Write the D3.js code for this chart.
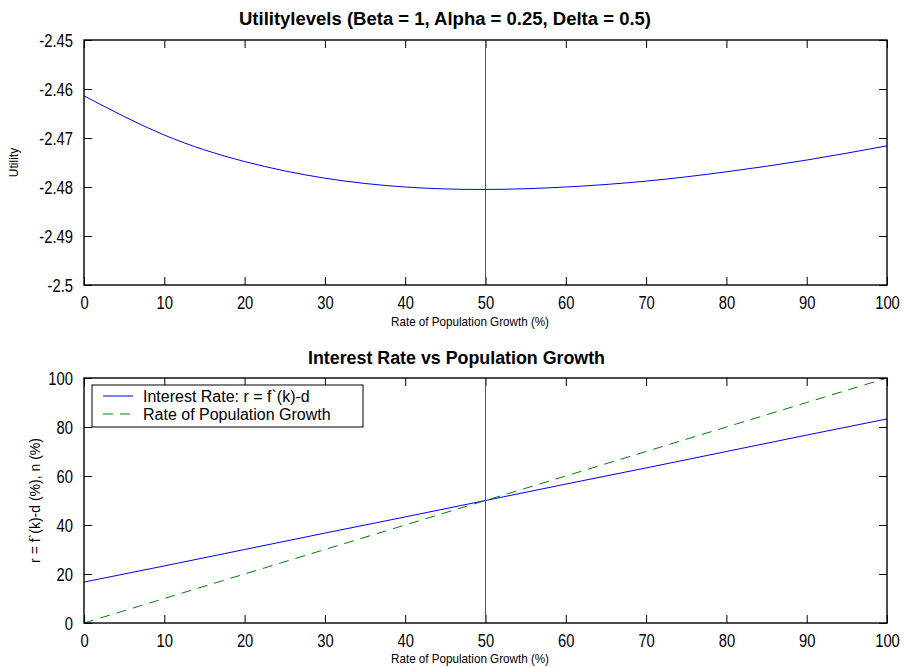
<!DOCTYPE html>
<html>
<head>
<meta charset="utf-8">
<script src="https://cdn.jsdelivr.net/npm/d3@7/dist/d3.min.js"></script>
<style>
  html, body { margin: 0; padding: 0; background: #fff; }
  svg { display: block; font-family: "Liberation Sans", Arial, Helvetica, sans-serif; }
</style>
</head>
<body>
<svg id="chart" width="904" height="667"></svg>
<script>
// ---- data ----
const growth = [0, 10, 20, 30, 40, 50, 60, 70, 80, 90, 100];
const utility = [-2.4614, -2.4694, -2.4748, -2.4782, -2.4800, -2.4805, -2.4800, -2.4788, -2.4769, -2.4745, -2.4716];
const interestRate = [16.7, 23.3, 30.0, 36.7, 43.3, 50.0, 56.7, 63.3, 70.0, 76.7, 83.3];
const popGrowthLine = [0, 10, 20, 30, 40, 50, 60, 70, 80, 90, 100];
const xTicks = [0, 10, 20, 30, 40, 50, 60, 70, 80, 90, 100];
const utilTicks = [-2.45, -2.46, -2.47, -2.48, -2.49, -2.5];
const rateTicks = [0, 20, 40, 60, 80, 100];
const markerX = 50;

const svg = d3.select("#chart");
const L = 84, R = 887;
const top1 = 40, bot1 = 285;
const top2 = 378, bot2 = 623;
const tickLen = 8;
const squeeze = 0.82;

const x = d3.scaleLinear().domain([0, 100]).range([L, R]);
const y1 = d3.scaleLinear().domain([-2.5, -2.45]).range([bot1, top1]);
const y2 = d3.scaleLinear().domain([0, 100]).range([bot2, top2]);

function condense(sel) {
  sel.each(function () {
    const w = this.getComputedTextLength();
    d3.select(this).attr("textLength", w * squeeze).attr("lengthAdjust", "spacingAndGlyphs");
  });
}

function panel(y, yTicks, yFmt, top, bot) {
  const g = svg.append("g");
  g.append("g").attr("transform", `translate(0,${bot})`)
    .call(d3.axisBottom(x).tickValues(xTicks).tickSizeInner(-tickLen).tickSizeOuter(0).tickFormat(d => d))
    .call(a => a.select(".domain").remove())
    .call(a => a.selectAll("text").attr("dy", null).attr("y", 24).attr("font-size", 18).attr("fill", "#000").attr("font-family", "Liberation Sans, Arial, sans-serif"))
    .call(a => a.selectAll("line").attr("stroke", "#000"));
  g.append("g").attr("transform", `translate(0,${top})`)
    .call(d3.axisTop(x).tickValues(xTicks).tickSizeInner(-tickLen).tickSizeOuter(0).tickFormat(""))
    .call(a => a.select(".domain").remove())
    .call(a => a.selectAll("line").attr("stroke", "#000"));
  g.append("g").attr("transform", `translate(${L},0)`)
    .call(d3.axisLeft(y).tickValues(yTicks).tickSizeInner(-tickLen).tickSizeOuter(0).tickFormat(yFmt))
    .call(a => a.select(".domain").remove())
    .call(a => a.selectAll("text").attr("x", -11).attr("dy", "0.36em").attr("font-size", 18).attr("fill", "#000").attr("font-family", "Liberation Sans, Arial, sans-serif"))
    .call(a => a.selectAll("line").attr("stroke", "#000"));
  g.append("g").attr("transform", `translate(${R},0)`)
    .call(d3.axisRight(y).tickValues(yTicks).tickSizeInner(-tickLen).tickSizeOuter(0).tickFormat(""))
    .call(a => a.select(".domain").remove())
    .call(a => a.selectAll("line").attr("stroke", "#000"));
  g.selectAll(".tick text").call(condense);
  g.append("line").attr("x1", x(markerX)).attr("x2", x(markerX)).attr("y1", top).attr("y2", bot)
    .attr("stroke", "#555").attr("stroke-width", 1);
  return g;
}

const p1 = panel(y1, utilTicks, d => String(d), top1, bot1);
const p2 = panel(y2, rateTicks, d => String(d), top2, bot2);

p1.append("path").datum(growth.map((g, i) => [g, utility[i]]))
  .attr("fill", "none").attr("stroke", "#0000ff").attr("stroke-width", 1)
  .attr("d", d3.line().x(d => x(d[0])).y(d => y1(d[1])).curve(d3.curveNatural));

p2.append("path").datum(growth.map((g, i) => [g, interestRate[i]]))
  .attr("fill", "none").attr("stroke", "#0000ff").attr("stroke-width", 1)
  .attr("d", d3.line().x(d => x(d[0])).y(d => y2(d[1])));
p2.append("path").datum(growth.map((g, i) => [g, popGrowthLine[i]]))
  .attr("fill", "none").attr("stroke", "#008000").attr("stroke-width", 1)
  .attr("stroke-dasharray", "10,7")
  .attr("d", d3.line().x(d => x(d[0])).y(d => y2(d[1])));

[[top1, bot1], [top2, bot2]].forEach(([t, b]) => {
  svg.append("rect").attr("x", L).attr("y", t).attr("width", R - L).attr("height", b - t)
    .attr("fill", "none").attr("stroke", "#000").attr("stroke-width", 1.4);
});

// legend
const lg = svg.append("g");
lg.append("rect").attr("x", 92).attr("y", 385).attr("width", 271).attr("height", 42)
  .attr("fill", "#fff").attr("stroke", "#000").attr("stroke-width", 1);
lg.append("line").attr("x1", 103).attr("x2", 133).attr("y1", 396).attr("y2", 396)
  .attr("stroke", "#0000ff").attr("stroke-width", 1);
lg.append("line").attr("x1", 103).attr("x2", 133).attr("y1", 414).attr("y2", 414)
  .attr("stroke", "#008000").attr("stroke-width", 1).attr("stroke-dasharray", "10,7");
lg.append("text").attr("x", 143).attr("y", 401.5).attr("font-size", 16).text("Interest Rate: r = f`(k)-d");
lg.append("text").attr("x", 143).attr("y", 419.5).attr("font-size", 16).text("Rate of Population Growth");

function txt(xp, yp, s, size, weight, len) {
  const t = svg.append("text").attr("x", xp).attr("y", yp).attr("font-size", size)
    .attr("font-weight", weight).attr("fill", "#000").text(s);
  if (len) t.attr("textLength", len).attr("lengthAdjust", "spacingAndGlyphs");
  return t;
}
txt(239, 25, "Utilitylevels (Beta = 1, Alpha = 0.25, Delta = 0.5)", 18, "bold", 412);
txt(308, 364, "Interest Rate vs Population Growth", 18, "bold", 297);
txt(391, 326, "Rate of Population Growth (%)", 13, "normal", 158);
txt(391, 663, "Rate of Population Growth (%)", 13, "normal", 158);

svg.append("text").attr("transform", `translate(18,${(top1 + bot1) / 2}) rotate(-90)`)
  .attr("text-anchor", "middle").attr("font-size", 12).text("Utility");
svg.append("text").attr("transform", `translate(40,${(top2 + bot2) / 2}) rotate(-90)`)
  .attr("text-anchor", "middle").attr("font-size", 14).text("r = f`(k)-d (%), n (%)");
</script>
</body>
</html>
